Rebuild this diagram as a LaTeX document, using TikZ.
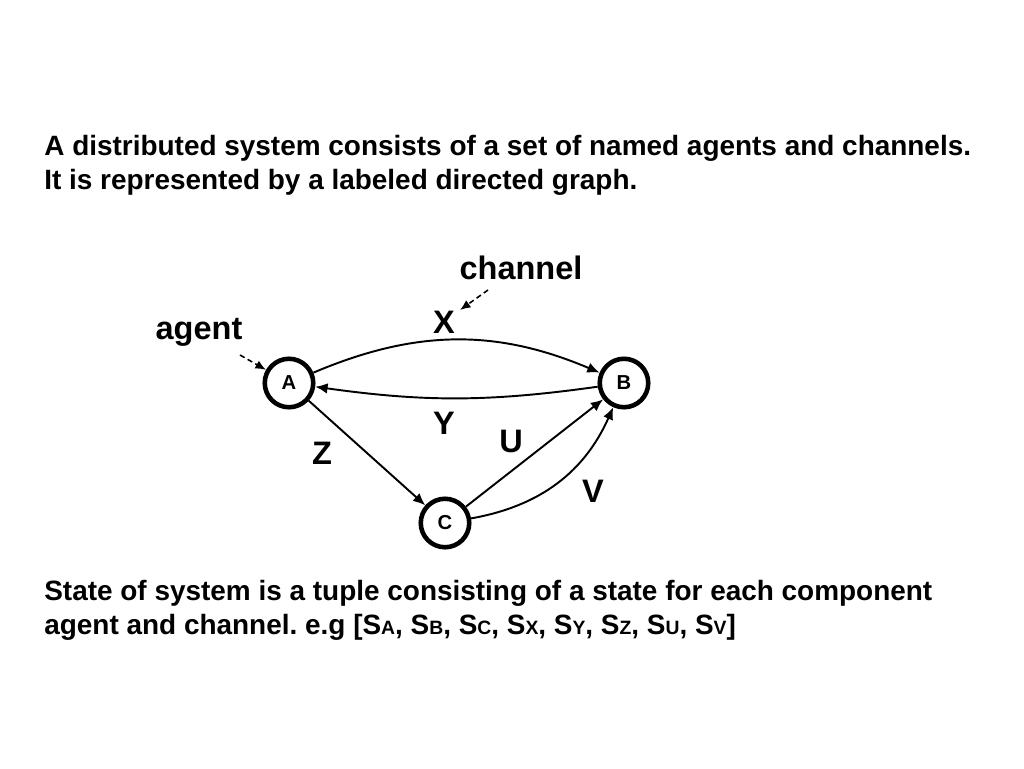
\documentclass[tikz,border=0pt]{standalone}
\usepackage{fontspec}
\setmainfont{Liberation Sans}
\usetikzlibrary{arrows.meta}
\frenchspacing
% small letter sitting on the baseline, used for the state names
\newcommand{\stsub}[1]{{\fontsize{11}{12}\selectfont #1}}
\begin{document}
\begin{tikzpicture}[x=0.02cm, y={(0cm,-0.02cm)},
    font=\bfseries,
    txt/.style={anchor=base west, inner sep=0pt, font=\bfseries\fontsize{15.9}{18}\selectfont},
    lbl/.style={font=\bfseries\fontsize{18.5}{20}\selectfont},
    agentnode/.style={circle, draw, line width=2.6pt, minimum size=0.97cm, inner sep=0pt,
                      font=\bfseries\fontsize{11.5}{13}\selectfont},
    chan/.style={line width=1.1pt, -{Latex[length=7pt,width=6pt]}},
    pointer/.style={line width=0.9pt, dash pattern=on 3pt off 2pt,
                    -{Latex[length=6pt,width=5pt]}}]
  % page frame, in pixels of the slide
  \useasboundingbox (0,0) rectangle (1024,768);

  % top text
  \node[txt] (title1) at (44,155) {A distributed system consists of a set of named agents and channels.};
  \node[txt] (title2) at (44,189) {It is represented by a labeled directed graph.};

  % the three agents
  \node[agentnode] (A) at (289,383) {A};
  \node[agentnode] (B) at (624,383) {B};
  \node[agentnode] (C) at (445,523) {C};

  % channels between the agents
  \draw[chan] (A) to[bend left=23] (B);
  \draw[chan] (B) to[bend left=8] (A);
  \draw[chan] (A) -- (C);
  \draw[chan] (C) -- (B);
  \draw[chan] (C) to[bend right=28] (B);

  % channel names
  \node[lbl] (lX) at (444,322) {X};
  \node[lbl] (lY) at (444,423) {Y};
  \node[lbl] (lZ) at (322,453) {Z};
  \node[lbl] (lU) at (511,441) {U};
  \node[lbl] (lV) at (593,491) {V};

  % the two call-outs
  \node[lbl] (agentlbl) at (199,332) {agent};
  \node[lbl] (chanlbl) at (521,268) {channel};
  \coordinate (agenttail) at (240,355);
  \coordinate (chantail) at (488,290);
  \coordinate (chanhead) at (460,310);
  \draw[pointer] (agenttail) -- (A);
  \draw[pointer] (chantail) -- (chanhead);

  % bottom text
  \node[txt] (state1) at (44,600) {State of system is a tuple consisting of a state for each component};
  \node[txt] (state2) at (44,634) {agent and channel. e.g [S\stsub{A}, S\stsub{B}, S\stsub{C}, S\stsub{X}, S\stsub{Y}, S\stsub{Z}, S\stsub{U}, S\stsub{V}]};
\end{tikzpicture}
\end{document}
